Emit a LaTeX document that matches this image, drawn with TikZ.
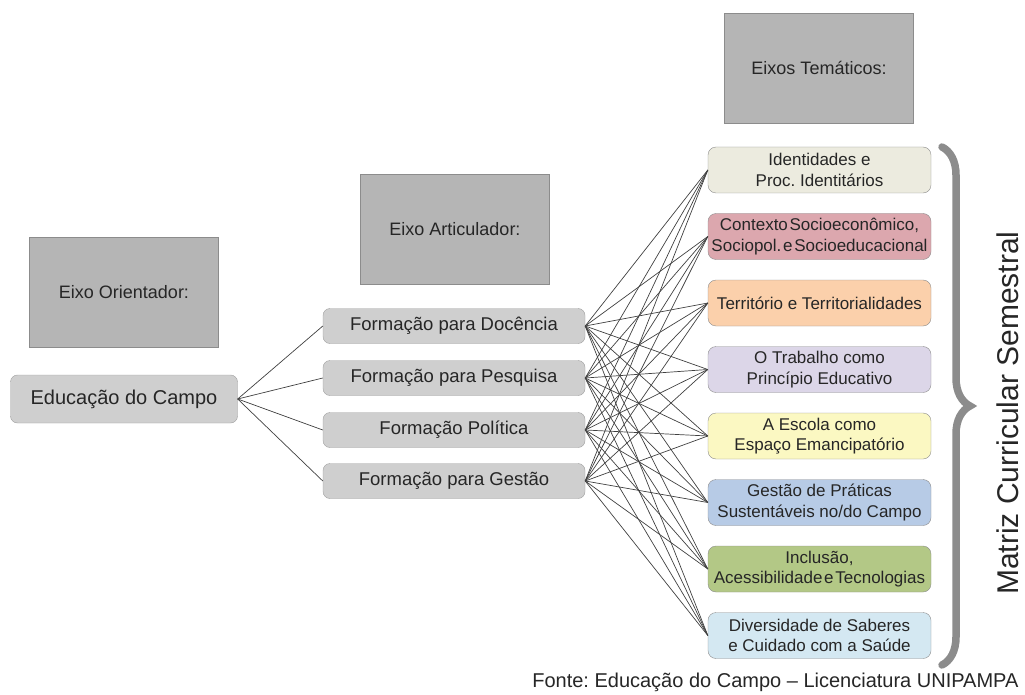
\documentclass[tikz,border=0pt]{standalone}
\usepackage{fontspec}
\setmainfont{Liberation Sans}
\usetikzlibrary{decorations.pathreplacing}
\frenchspacing

\definecolor{temaA}{HTML}{ECEBDF}
\definecolor{temaB}{HTML}{DCA7AE}
\definecolor{temaC}{HTML}{FBD0AB}
\definecolor{temaD}{HTML}{DCD6E8}
\definecolor{temaE}{HTML}{FBF8C2}
\definecolor{temaF}{HTML}{B7CBE6}
\definecolor{temaG}{HTML}{B3C886}
\definecolor{temaH}{HTML}{D4E8F2}
\newcommand{\junto}[1]{{\spaceskip=0.1em plus 0.02em\xspaceskip=0.1em\relax #1}}

\begin{document}
\begin{tikzpicture}[x=1pt, y=-1pt,
    every node/.style={text=black!85, align=center},
    eixo/.style={draw=black!45, fill=black!29, minimum width=189pt, minimum height=110pt,
      font=\fontsize{18}{21}\selectfont},
    forma/.style={draw=black!38, fill=black!19, rounded corners=7pt, minimum width=262pt,
      minimum height=35pt, inner sep=0pt, font=\fontsize{18.5}{22}\selectfont},
    tema/.style={draw=black!45, rounded corners=8pt, minimum width=223pt, minimum height=46pt,
      inner sep=0pt, font=\fontsize{17}{20.5}\selectfont},
    liga/.style={black!75, line width=0.7pt}]

  \useasboundingbox (0,0) rectangle (1025,695);

  \node[eixo] (orient) at (124,292) {Eixo Orientador:};
  \node[eixo] (artic) at (455,229) {Eixo Articulador:};
  \node[eixo] (temat) at (819,68) {Eixos Temáticos:};

  \node[forma, minimum width=227pt, minimum height=48pt, font=\fontsize{20}{24}\selectfont]
    (campo) at (124,399) {Educação do Campo};

  \node[forma] (f1) at (454,326) {Formação para Docência};
  \node[forma] (f2) at (454,378) {Formação para Pesquisa};
  \node[forma] (f3) at (454,430) {Formação Política};
  \node[forma] (f4) at (454,481) {Formação para Gestão};

  \node[tema, fill=temaA] (t1) at (819.5,170) {Identidades e\\Proc. Identitários};
  \node[tema, fill=temaB] (t2) at (819.5,236.5)
    {\junto{Contexto Socioeconômico,}\\\junto{Sociopol. e Socioeducacional}};
  \node[tema, fill=temaC] (t3) at (819.5,303) {Território e Territorialidades};
  \node[tema, fill=temaD] (t4) at (819.5,369.5) {O Trabalho como\\Princípio Educativo};
  \node[tema, fill=temaE] (t5) at (819.5,436) {A Escola como\\Espaço Emancipatório};
  \node[tema, fill=temaF] (t6) at (819.5,502.5) {Gestão de Práticas\\Sustentáveis no/do Campo};
  \node[tema, fill=temaG] (t7) at (819.5,569) {Inclusão,\\\junto{Acessibilidade e Tecnologias}};
  \node[tema, fill=temaH] (t8) at (819.5,635.5) {Diversidade de Saberes\\e Cuidado com a Saúde};

  \foreach \i in {1,...,4} {
    \draw[liga] (campo.east) -- (f\i.west);
    \foreach \j in {1,...,8}
      \draw[liga] (f\i.east) -- (t\j.west);
  }

  \coordinate (chave1) at (942,147);
  \coordinate (chave2) at (942,665);
  \draw[decorate, decoration={brace, amplitude=28pt}, black!45, line width=7.5pt, line cap=round]
    (chave1) -- (chave2);

  \node[rotate=90, anchor=base, font=\fontsize{30}{35}\selectfont] (matriz) at (1018,413)
    {Matriz Curricular Semestral};
  \node[anchor=base east, font=\fontsize{20}{24}\selectfont] (fonte) at (1022,687)
    {Fonte: Educação do Campo -- Licenciatura UNIPAMPA};
\end{tikzpicture}
\end{document}
